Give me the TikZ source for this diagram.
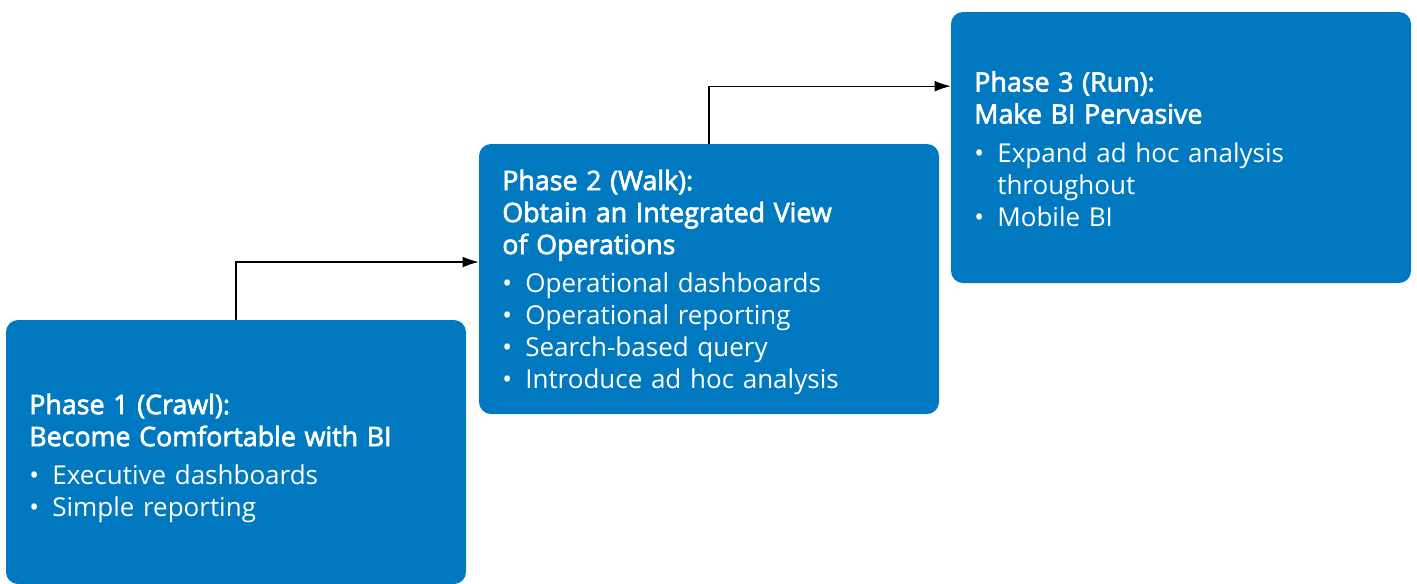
\documentclass[tikz,border=0pt]{standalone}
\usepackage{fontspec}
\setmainfont{Open Sans}
\newfontfamily\phasehead{Open Sans}[FakeBold=2.5,Scale=1.03]
\usetikzlibrary{arrows.meta}
\definecolor{phaseblue}{HTML}{0079C1}
\newcommand{\bul}{\makebox[17.25pt][l]{\textbullet}}
\newcommand{\hang}{\hspace*{17.25pt}}
\newcommand{\topgap}[1]{\rule{0pt}{\dimexpr\fontcharht\font`(+#1\relax}}

\begin{document}
\begin{tikzpicture}[x=0.75pt,y=-0.75pt,
    phase/.style={fill=phaseblue,rounded corners=9pt,text=white,align=left,
        minimum width=345pt,text width=310pt,inner xsep=17.5pt,
        font=\fontsize{19.5}{24}\selectfont},
    flow/.style={->,line width=0.9pt},
    >={Latex[length=12pt,width=8pt]}]
\useasboundingbox (0,0) rectangle (1417,583);
\node[phase,minimum height=198pt] (p1) at (236,452)
    {{\phasehead\topgap{10.5pt}Phase 1 (Crawl):\\ Become Comfortable with BI}\\[5pt]
     \bul Executive dashboards\\ \bul Simple reporting};
\node[phase,minimum height=202.5pt] (p2) at (709,279)
    {{\phasehead\topgap{6pt}Phase 2 (Walk):\\ Obtain an Integrated View\\ of Operations}\\[5pt]
     \bul Operational dashboards\\ \bul Operational reporting\\
     \bul Search-based query\\ \bul Introduce ad hoc analysis};
\node[phase,minimum height=203.25pt] (p3) at (1181,147.5)
    {{\phasehead\topgap{3pt}Phase 3 (Run):\\ Make BI Pervasive}\\[5pt]
     \bul Expand ad hoc analysis\\ \hang throughout\\ \bul Mobile BI};
\draw[flow] (p1.north) |- ([yshift=12.75pt]p2.west);
\draw[flow] (p2.north) |- ([yshift=46pt]p3.west);
\end{tikzpicture}
\end{document}
